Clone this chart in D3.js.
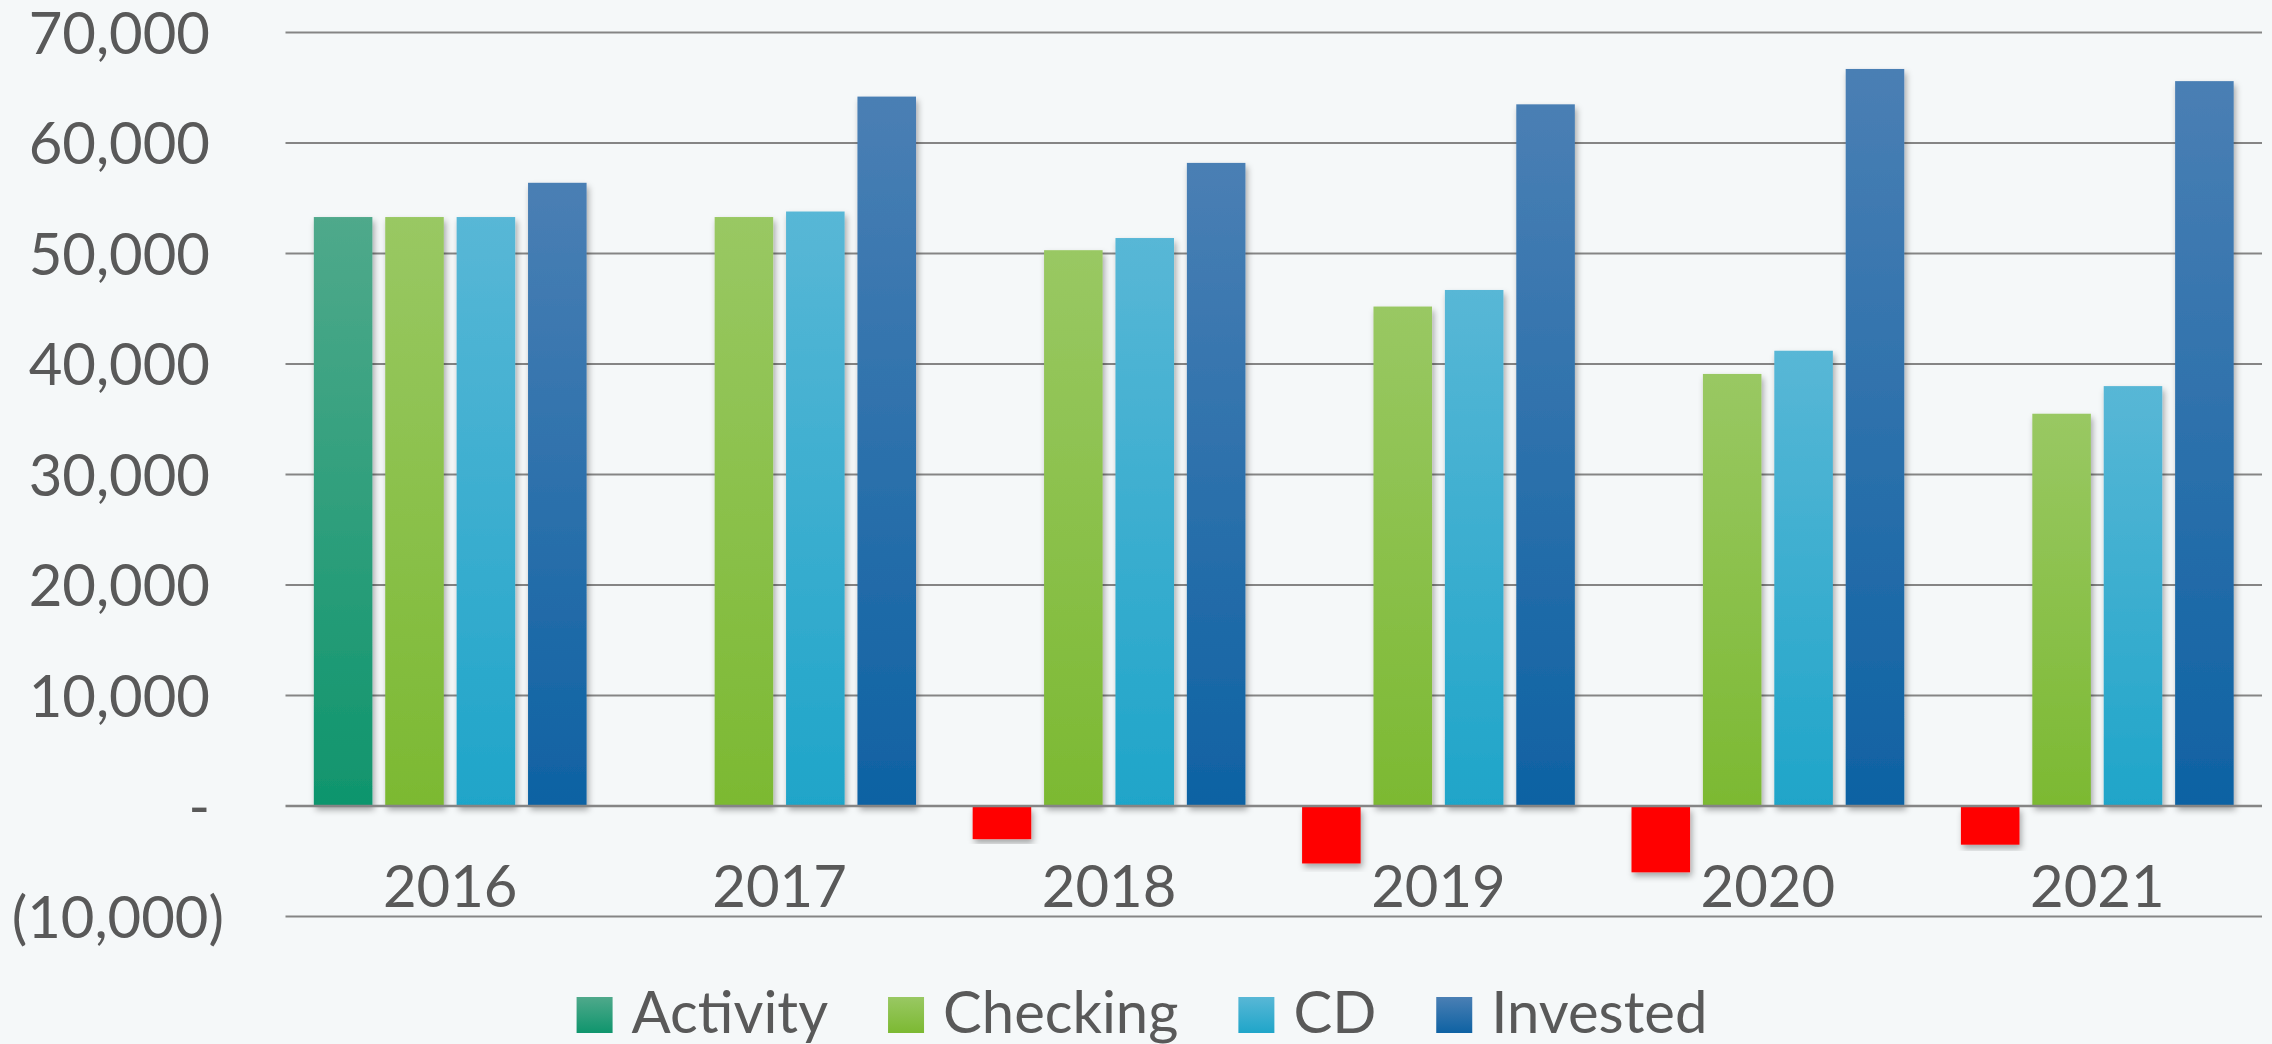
<!DOCTYPE html>
<html>
<head>
<meta charset="utf-8">
<script src="https://cdn.jsdelivr.net/npm/d3@7"></script>
<style>
  html, body { margin: 0; padding: 0; background: #f5f8f9; }
  svg { display: block; font-family: Lato, "Open Sans", sans-serif; }
</style>
</head>
<body>
<div class="chart"></div>
<script>
const years = ['2016', '2017', '2018', '2019', '2020', '2021'];
const series = ['Activity', 'Checking', 'CD', 'Invested'];
const activity = [53300, null, -3000, -5200, -6000, -3500];
const checking = [53300, 53300, 50300, 45200, 39100, 35500];
const cd = [53300, 53800, 51400, 46700, 41200, 38000];
const invested = [56400, 64200, 58200, 63500, 66700, 65600];
const yTicks = [-10000, 0, 10000, 20000, 30000, 40000, 50000, 60000, 70000];

const colors = {
  Activity: ['#4fa98b', '#0f956d'],
  Checking: ['#99c863', '#7cb932'],
  CD: ['#58b7d6', '#1fa5c9'],
  Invested: ['#4a7fb4', '#0e62a3']
};

const width = 2272, height = 1044;
const margin = {top: 32.5, right: 10, bottom: 127.5, left: 285.5};
const plotRight = 2262;

const rows = [activity, checking, cd, invested];
const data = years.map((yr, i) => ({
  year: yr,
  values: series.map((s, j) => ({key: s, value: rows[j][i]}))
}));

const svg = d3.select('.chart')
  .append('svg')
    .attr('width', width)
    .attr('height', height);

const defs = svg.append('defs');
series.forEach(s => {
  const g = defs.append('linearGradient')
    .attr('id', `grad_${s}`)
    .attr('x1', 0).attr('y1', 0).attr('x2', 0).attr('y2', 1);
  g.append('stop').attr('offset', '0%').attr('stop-color', colors[s][0]);
  g.append('stop').attr('offset', '100%').attr('stop-color', colors[s][1]);
});
const shadow = defs.append('filter')
  .attr('id', 'shadow')
  .attr('x', '-20%').attr('y', '-5%').attr('width', '150%').attr('height', '120%');
shadow.append('feDropShadow')
  .attr('dx', 2).attr('dy', 4)
  .attr('stdDeviation', 3)
  .attr('flood-color', '#000')
  .attr('flood-opacity', 0.33);

svg.append('rect')
  .attr('width', width).attr('height', height)
  .attr('fill', '#f5f8f9');

const x0 = d3.scaleBand()
  .domain(years)
  .range([margin.left, plotRight])
  .paddingInner(0.172)
  .paddingOuter(0.086);

const x1 = d3.scaleBand()
  .domain(series)
  .range([0, x0.bandwidth()])
  .paddingInner(0.18);

const y = d3.scaleLinear()
  .domain([-10000, 70000])
  .range([height - margin.bottom, margin.top]);

const fmt = d3.format(',');
const tickLabel = v => v === 0 ? '-' : v < 0 ? `(${fmt(-v)})` : fmt(v);

// gridlines
svg.append('g')
  .selectAll('line')
  .data(yTicks.filter(d => d !== 0))
  .join('line')
    .attr('x1', margin.left)
    .attr('x2', plotRight)
    .attr('y1', d => y(d))
    .attr('y2', d => y(d))
    .attr('stroke', '#858585')
    .attr('stroke-width', 2);

// y axis labels
const yAxis = g => g
  .attr('transform', `translate(210, 0)`)
  .call(d3.axisLeft(y).tickValues(yTicks).tickFormat(tickLabel).tickSize(0).tickPadding(0))
  .call(g => g.select('.domain').remove())
  .call(g => g.selectAll('text')
    .attr('font-family', 'Lato, "Open Sans", sans-serif')
    .attr('font-size', 58)
    .attr('fill', '#595959')
    .attr('dy', '0.36em')
    .attr('x', d => d < 0 ? 14 : 0));

svg.append('g').call(yAxis);

// bars
svg.append('g')
  .selectAll('g')
  .data(data)
  .join('g')
    .attr('transform', d => `translate(${x0(d.year)},0)`)
  .selectAll('rect')
  .data(d => d.values.filter(v => v.value !== null))
  .join('rect')
    .attr('x', d => x1(d.key))
    .attr('y', d => d.value >= 0 ? y(d.value) : y(0) + 1)
    .attr('width', x1.bandwidth())
    .attr('height', d => Math.abs(y(d.value) - y(0)) - (d.value < 0 ? 1 : 0))
    .attr('fill', d => d.value < 0 ? '#ff0000' : `url(#grad_${d.key})`)
    .attr('filter', 'url(#shadow)');

// zero line
svg.append('line')
  .attr('x1', margin.left)
  .attr('x2', plotRight)
  .attr('y1', y(0))
  .attr('y2', y(0))
  .attr('stroke', '#858585')
  .attr('stroke-width', 2.5);

// x axis labels
const xAxis = g => g
  .attr('transform', `translate(0, ${y(0)})`)
  .call(d3.axisBottom(x0).tickSize(0).tickPadding(0))
  .call(g => g.select('.domain').remove())
  .call(g => g.selectAll('text')
    .attr('font-family', 'Lato, "Open Sans", sans-serif')
    .attr('font-size', 58)
    .attr('fill', '#595959')
    .attr('dy', null)
    .attr('y', 101));

svg.append('g').call(xAxis);

// legend
const legend = svg.append('g');
const items = legend.selectAll('g')
  .data(series)
  .join('g');
items.append('rect')
  .attr('y', 997)
  .attr('width', 36)
  .attr('height', 36)
  .attr('fill', d => `url(#grad_${d})`);
items.append('text')
  .attr('x', 55)
  .attr('y', 1033)
  .attr('font-size', 58)
  .attr('fill', '#595959')
  .text(d => d);

let offset = 0;
items.each(function() {
  const w = d3.select(this).select('text').node().getComputedTextLength();
  d3.select(this).attr('transform', `translate(${offset},0)`);
  offset += 55 + w + 60;
});
const total = offset - 60;
legend.attr('transform', `translate(${1142 - total / 2},0)`);
</script>
</body>
</html>
